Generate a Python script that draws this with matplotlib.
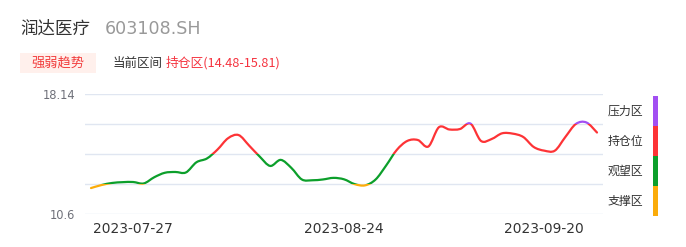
import numpy as np
import pandas as pd
import matplotlib
matplotlib.use('Agg')
import matplotlib.pyplot as plt
from matplotlib.patches import Rectangle, PathPatch
from matplotlib.path import Path

plt.rcParams['font.family'] = ['DejaVu Sans', 'Noto Sans CJK SC']
CJK = ['Noto Sans CJK SC', 'DejaVu Sans']

# trading days shown on the chart
dates = pd.bdate_range('2023-07-21', '2023-09-27')

# closing price
price = [12.23, 12.42, 12.55, 12.60, 12.61, 12.52, 12.91, 13.19, 13.24, 13.21,
         13.85, 14.09, 14.65, 15.36, 15.56, 14.90, 14.21, 13.62, 14.00, 13.50,
         12.77, 12.72, 12.77, 12.87, 12.78, 12.48, 12.40, 12.77, 13.65, 14.62,
         15.19, 15.25, 14.84, 16.05, 15.91, 15.94, 16.28, 15.19, 15.31, 15.67,
         15.65, 15.44, 14.81, 14.58, 14.58, 15.44, 16.26, 16.35, 15.72]

# zone boundaries (bottom to top) and their colours / names
y_min, y_max = 10.6, 18.14
zone_edges = [10.6, 12.485, 14.37, 16.255, 18.14]
zone_names = ['支撑区', '观望区', '持仓位', '压力区']
zone_colors = ['#fbac0a', '#0c9f2b', '#fd3336', '#a24ff2']

tick_dates = ['2023-07-27', '2023-08-24', '2023-09-20']

W, H = 686, 247
fig = plt.figure(figsize=(W / 100, H / 100), dpi=100)

def fx(px):
    return px / W

def fy(py):
    return 1 - py / H

ax = fig.add_axes([fx(85), fy(214), fx(603) - fx(85), fy(94) - fy(214)])
x = np.arange(len(dates))
pts = np.column_stack([x, price])

# smooth line through the points (cubic bezier segments, like a smoothed line chart)
verts = [pts[0]]
codes = [Path.MOVETO]
n = len(pts)
for i in range(n - 1):
    p0 = pts[max(i - 1, 0)]
    p1 = pts[i]
    p2 = pts[i + 1]
    p3 = pts[min(i + 2, n - 1)]
    verts += [p1 + (p2 - p0) / 6, p2 - (p3 - p1) / 6, p2]
    codes += [Path.CURVE4] * 3
line_path = Path(verts, codes)

# one line per zone, clipped to that zone's band
for lo, hi, col in zip(zone_edges[:-1], zone_edges[1:], zone_colors):
    patch = PathPatch(line_path, facecolor='none', edgecolor=col, lw=1.6,
                      capstyle='round', joinstyle='round', zorder=3)
    ax.add_patch(patch)
    band = Rectangle((-5, lo), n + 10, hi - lo, transform=ax.transData)
    patch.set_clip_path(band)

ax.set_xlim(-0.57, n - 1 + 0.57)
ax.set_ylim(y_min, y_max)
ax.set_yticks(zone_edges)
ax.set_yticklabels(['10.6', '', '', '', '18.14'], color='#6e7079', fontsize=8.3)
ax.grid(axis='y', color='#e0e6f1', lw=1)
ax.set_axisbelow(True)

pos = [list(dates.strftime('%Y-%m-%d')).index(d) for d in tick_dates]
ax.set_xticks(pos)
ax.set_xticklabels(tick_dates, color='#333333', fontsize=9.9)
ax.tick_params(length=0)
ax.tick_params(axis='y', pad=7)
ax.tick_params(axis='x', pad=6)
for s in ax.spines.values():
    s.set_visible(False)

# header
fig.text(fx(20), fy(29), '润达医疗', fontsize=12.6, color='#333333', va='center', family=CJK)
fig.text(fx(105), fy(29), '603108.SH', fontsize=12.6, color='#999999', va='center')

fig.add_artist(Rectangle((fx(20), fy(73)), fx(96) - fx(20), fy(53) - fy(73),
                         transform=fig.transFigure, color='#fff0ec', lw=0))
fig.text(fx(58), fy(63), '强弱趋势', fontsize=9.5, color='#f23c3c', va='center', ha='center',
         family=CJK)
fig.text(fx(113), fy(63), '当前区间', fontsize=9, color='#333333', va='center', family=CJK)
fig.text(fx(166), fy(63), '持仓区(14.48-15.81)', fontsize=9.2, color='#f5333f', va='center',
         family=CJK)

# right side zone legend bar
seg_top = [186, 156, 126, 96]
for name, col, top in zip(zone_names, zone_colors, seg_top):
    fig.add_artist(Rectangle((fx(653), fy(top + 30)), fx(5), fy(top) - fy(top + 30),
                             transform=fig.transFigure, color=col, lw=0))
    fig.text(fx(643), fy(top + 15), name, fontsize=8.6, color='#333333',
             va='center', ha='right', family=CJK)

fig.savefig('out.png', dpi=100)
